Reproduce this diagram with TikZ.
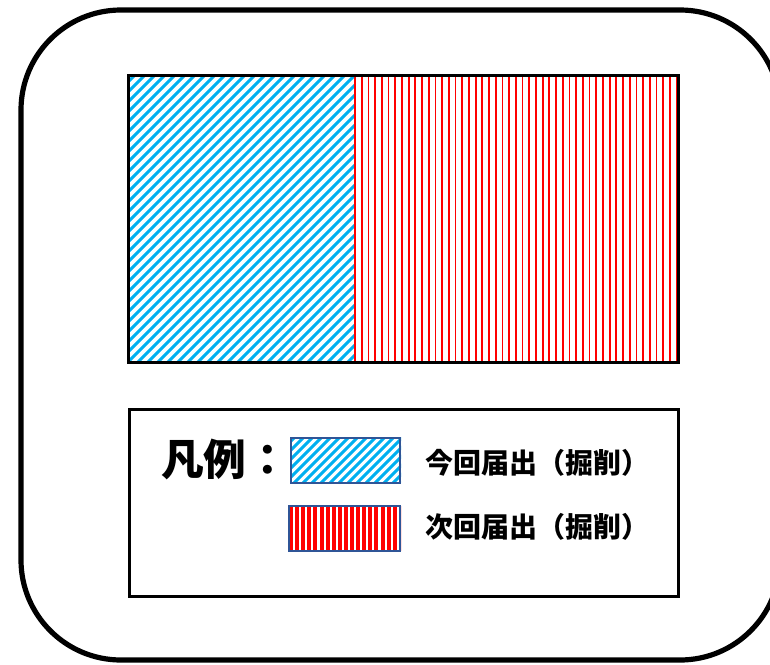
\documentclass[tikz,border=0pt]{standalone}
\usepackage{fontspec}
\newfontfamily\jpfont{Noto Sans CJK JP}
\usetikzlibrary{calc, backgrounds}
\definecolor{hatchblue}{RGB}{0,176,240}
\definecolor{stripered}{RGB}{255,0,0}
\definecolor{swatchedge}{RGB}{47,85,151}
\tikzstyle{frame} = [%
					line width = 3.9pt,
					rounded corners = 75pt]
\tikzstyle{box} = [%
					line width = 2.25pt]
\tikzstyle{hatch} = [%
					line width = 2.2pt,
					color = hatchblue]
\tikzstyle{stripe} = [%
					line width = 1.35pt,
					color = stripered]
\tikzstyle{swatch} = [%
					line width = 1.5pt,
					draw = swatchedge]
\tikzstyle{legend} = [%
					anchor = west, inner sep = 0pt,
					font = \jpfont\bfseries\fontsize{21}{23}\selectfont]

\begin{document}
\begin{tikzpicture}[x=0.75pt, y=-0.75pt]
		
		% Canvas (pixels)
		\clip (0,0) rectangle (770,664);
		
		% Coordinates
		\coordinate (F1) at (21,10);
		\coordinate (F2) at (780,660);
		\coordinate (M1) at (128,75);
		\coordinate (M2) at (678,362);
		\coordinate (MS) at (354,75);
		\coordinate (L1) at (129,409);
		\coordinate (L2) at (678,596);
		
		% Frame
		\draw[frame] (F1) rectangle (F2);
		
		% Map
		%% This time
		\begin{scope}
			\clip (M1) rectangle (MS |- M2);
			\foreach \k in {-300,-290,...,230}
				\draw[hatch] (128+\k,362) -- ++(300,-300);
		\end{scope}
		%% Next time
		\begin{scope}
			\clip (MS) rectangle (M2);
			\foreach \i in {0,...,48}
				\draw[stripe] (355+6.7*\i,75) -- ++(0,287);
		\end{scope}
		\draw[box] (M1) rectangle (M2);
		
		% Legend
		\draw[box] (L1) rectangle (L2);
		\node[anchor=west, inner sep=0pt, font=\jpfont\bfseries\fontsize{32}{34}\selectfont] (key) at (161,459) {凡例：};
		\node[swatch, minimum width=81.75pt, minimum height=33.75pt] (now) at (345.5,460.5) {};
		\node[swatch, minimum width=83.25pt, minimum height=33.75pt] (next) at (344.5,528.5) {};
		\begin{scope}[on background layer]
			\begin{scope}
				\clip (now.south west) rectangle (now.north east);
				\foreach \k in {-60,-51,...,120}
					\draw[hatch] (291+\k,483) -- ++(60,-60);
			\end{scope}
			\begin{scope}
				\clip (next.south west) rectangle (next.north east);
				\foreach \i in {0,...,18}
					\draw[stripe, line width=3pt] (291+6.1*\i,506) -- ++(0,45);
			\end{scope}
		\end{scope}
		\node[legend] (now-text) at (425,463) {今回届出（掘削）};
		\node[legend] (next-text) at (425,527) {次回届出（掘削）};
		
	\end{tikzpicture}
\end{document}
